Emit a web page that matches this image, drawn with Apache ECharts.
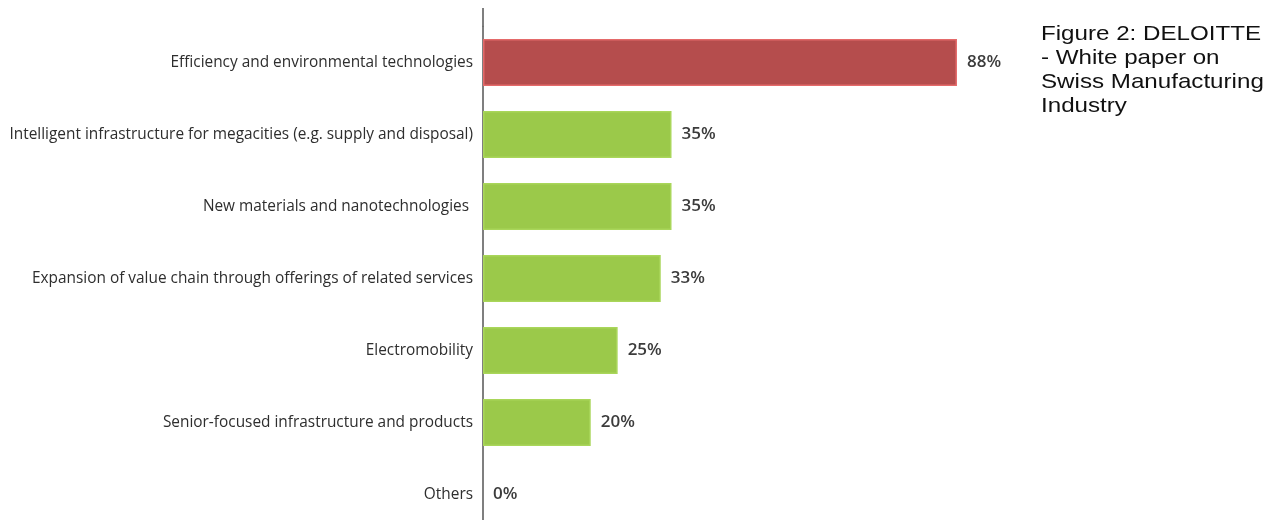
<!DOCTYPE html>
<html>
<head>
<meta charset="utf-8">
<script src="https://cdn.jsdelivr.net/npm/echarts@6/dist/echarts.min.js"></script>
<style>
  html, body { margin: 0; padding: 0; background: #fff; }
  #chart { width: 1272px; height: 520px; }
</style>
</head>
<body>
<div id="chart"></div>
<script>
// Survey answers: share of respondents naming each growth field
const categories = [
  'Efficiency and environmental technologies',
  'Intelligent infrastructure for megacities (e.g. supply and disposal)',
  'New materials and nanotechnologies ',
  'Expansion of value chain through offerings of related services',
  'Electromobility',
  'Senior-focused infrastructure and products',
  'Others'
];
const shares = [88, 35, 35, 33, 25, 20, 0];
const captionLines = ['Figure 2: DELOITTE', '- White paper on', 'Swiss Manufacturing', 'Industry'];

const topStyle = { color: '#b54d4d', borderColor: '#e46a6a', borderWidth: 1.5 };
const restStyle = { color: '#9bc94a', borderColor: '#a9d65a', borderWidth: 1.5 };
const emptyStyle = { color: '#9bc94a', borderWidth: 0 };

const chart = echarts.init(document.getElementById('chart'), null, { renderer: 'canvas' });

const option = {
  animation: false,
  backgroundColor: '#ffffff',
  // the last band runs a little past the bottom edge of the page
  grid: { left: 483, top: 26.5, height: 504, width: 538.6, containLabel: false, outerBoundsMode: 'none' },
  xAxis: {
    type: 'value', min: 0, max: 100,
    show: false
  },
  yAxis: {
    type: 'category',
    inverse: true,
    data: categories,
    axisLine: { show: true, lineStyle: { color: '#555', width: 1.5 } },
    axisTick: { show: false },
    axisLabel: {
      margin: 10,
      color: '#2e2e2e',
      fontFamily: 'Open Sans',
      fontSize: 15.4
    }
  },
  series: [{
    type: 'bar',
    barWidth: 47,
    data: shares.map((v, i) => ({
      value: v,
      itemStyle: i === 0 ? topStyle : (v === 0 ? emptyStyle : restStyle)
    })),
    label: {
      show: true,
      position: 'right',
      distance: 10,
      formatter: p => p.value + '%',
      color: '#3c3c3c',
      fontFamily: 'Open Sans',
      fontWeight: 600,
      fontSize: 17
    }
  }],
  graphic: [{
    id: 'caption',
    type: 'text',
    left: 1041,
    top: 22,
    scaleX: 1.15,
    style: {
      text: captionLines.join('\n'),
      fill: '#111',
      fontFamily: '"Liberation Sans", Arial, sans-serif',
      fontSize: 21,
      lineHeight: 24
    }
  }]
};
chart.setOption(option);

// extend the category axis line a little above the first band
const x0 = chart.convertToPixel({ xAxisIndex: 0 }, 0);
const band = chart.convertToPixel({ yAxisIndex: 0 }, 1) - chart.convertToPixel({ yAxisIndex: 0 }, 0);
const gridTop = chart.convertToPixel({ yAxisIndex: 0 }, 0) - band / 2;
chart.setOption({
  graphic: [{
    id: 'axisTop',
    type: 'line',
    shape: { x1: x0, y1: 8, x2: x0, y2: gridTop },
    style: { stroke: '#555', lineWidth: 1.5 }
  }]
});
</script>
</body>
</html>
